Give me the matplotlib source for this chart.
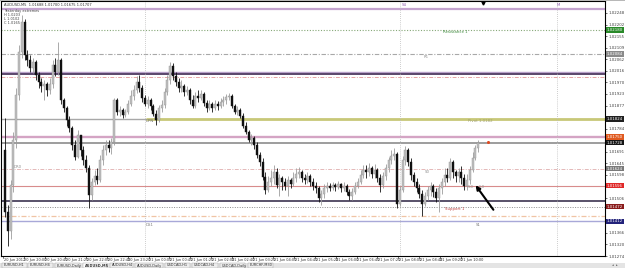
import numpy as np
import matplotlib
matplotlib.use("Agg")
import matplotlib.pyplot as plt
from matplotlib.patches import Rectangle, FancyArrowPatch
from matplotlib.transforms import blended_transform_factory

# AUDUSD M5 candles, prices in points (1e-5)
first_open_pts = 101700
close_pts = [
    101452, 101372, 101560, 101740, 101920, 102092, 102212, 102080, 102060, 102028,
    102052, 102000, 101972, 101956, 101964, 101940, 101964, 102040, 102012, 102060,
    101900, 101868, 101820, 101788, 101720, 101672, 101760, 101700, 101660, 101628,
    101520, 101572, 101596, 101580, 101660, 101700, 101720, 101708, 101732, 101900,
    101852, 101860, 101840, 101852, 101884, 101916, 101940, 101972, 101948, 101908,
    101884, 101900, 101876, 101844, 101820, 101868, 101880, 101932, 101980, 102036,
    101996, 101972, 101948, 101956, 101932, 101940, 101900, 101876, 101916, 101908,
    101924, 101888, 101868, 101884, 101868, 101884, 101876, 101892, 101900, 101912,
    101916, 101876, 101852, 101860, 101836, 101796, 101772, 101740, 101748, 101720,
    101680, 101652, 101592, 101540, 101572, 101588, 101612, 101560, 101588, 101572,
    101556, 101580, 101564, 101588, 101604, 101612, 101588, 101580, 101596, 101572,
    101556, 101548, 101508, 101524, 101548, 101556, 101548, 101560, 101552, 101564,
    101548, 101556, 101532, 101516, 101532, 101556, 101572, 101600, 101620, 101612,
    101628, 101604, 101620, 101588, 101560, 101596, 101628, 101660, 101676, 101684,
    101484, 101540, 101660, 101700, 101652, 101600, 101572, 101548, 101524, 101484,
    101516, 101540, 101556, 101532, 101508, 101548, 101572, 101600, 101588, 101652,
    101612, 101596, 101612, 101588, 101556, 101580, 101620, 101668, 101708, 101728,
]
high_pts = [
    101828, 101480, 101580, 101772, 101948, 102120, 102240, 102224, 102100, 102080,
    102068, 102060, 102012, 101988, 101980, 101972, 101988, 102060, 102068, 102132,
    102068, 101908, 101876, 101836, 101796, 101740, 101780, 101760, 101716, 101680,
    101640, 101588, 101620, 101628, 101680, 101720, 101740, 101740, 101748, 101908,
    101908, 101876, 101868, 101864, 101900, 101940, 101960, 101996, 102000, 101960,
    101920, 101916, 101908, 101884, 101860, 101880, 101900, 101948, 102000, 102052,
    102048, 102012, 101988, 101980, 101964, 101956, 101948, 101920, 101932, 101940,
    101940, 101932, 101900, 101900, 101892, 101900, 101896, 101908, 101916, 101924,
    101928, 101924, 101884, 101876, 101868, 101848, 101812, 101780, 101764, 101756,
    101732, 101692, 101668, 101612, 101596, 101620, 101640, 101628, 101604, 101596,
    101588, 101596, 101588, 101612, 101628, 101632, 101620, 101604, 101612, 101604,
    101588, 101572, 101556, 101540, 101564, 101572, 101568, 101572, 101568, 101576,
    101568, 101572, 101564, 101544, 101548, 101572, 101588, 101620, 101640, 101640,
    101648, 101636, 101644, 101628, 101604, 101612, 101644, 101672, 101700, 101708,
    101692, 101556, 101676, 101716, 101708, 101668, 101612, 101588, 101564, 101540,
    101532, 101556, 101572, 101564, 101548, 101564, 101588, 101628, 101628, 101668,
    101660, 101620, 101628, 101636, 101604, 101604, 101636, 101692, 101720, 101740,
]
low_pts = [
    101428, 101312, 101340, 101532, 101708, 101900, 102068, 102060, 102036, 102012,
    102008, 101980, 101948, 101932, 101900, 101916, 101924, 101948, 101996, 102000,
    101884, 101852, 101796, 101772, 101700, 101660, 101668, 101676, 101640, 101612,
    101468, 101500, 101560, 101564, 101572, 101640, 101680, 101692, 101684, 101720,
    101840, 101836, 101828, 101832, 101844, 101876, 101900, 101928, 101932, 101892,
    101876, 101868, 101860, 101836, 101800, 101812, 101852, 101868, 101920, 101964,
    101980, 101956, 101932, 101932, 101916, 101920, 101884, 101868, 101868, 101892,
    101900, 101876, 101852, 101860, 101852, 101860, 101860, 101868, 101876, 101884,
    101900, 101868, 101844, 101840, 101828, 101788, 101764, 101732, 101720, 101704,
    101668, 101636, 101580, 101524, 101532, 101556, 101564, 101548, 101516, 101540,
    101540, 101516, 101548, 101556, 101572, 101588, 101572, 101564, 101568, 101556,
    101540, 101528, 101492, 101480, 101508, 101532, 101536, 101540, 101536, 101544,
    101532, 101536, 101520, 101500, 101500, 101524, 101548, 101564, 101588, 101588,
    101596, 101588, 101588, 101572, 101532, 101548, 101580, 101612, 101644, 101660,
    101468, 101476, 101532, 101640, 101636, 101580, 101556, 101532, 101508, 101432,
    101476, 101500, 101516, 101512, 101492, 101452, 101524, 101556, 101572, 101580,
    101588, 101572, 101572, 101564, 101540, 101540, 101564, 101612, 101660, 101692,
]

# horizontal levels (pivot / S-R lines) drawn on the chart
level_prices = [1.02262, 1.02180, 1.02084, 1.02010, 1.02002, 1.01992, 1.01750,
                1.01728, 1.01624, 1.01556, 1.01496, 1.01472, 1.01434, 1.01412]
pivot_old, pivot_new = 1.01824, 1.01824
box_prices = [1.02180, 1.02084, 1.01824, 1.01750, 1.01728, 1.01624, 1.01556,
              1.01472, 1.01412]

date_labels = ["20 Jun 2012", "20 Jun 20:00", "20 Jun 20:40", "20 Jun 21:20",
               "20 Jun 22:00", "20 Jun 22:40", "20 Jun 23:20", "21 Jun 00:00",
               "21 Jun 00:40", "21 Jun 01:20", "21 Jun 02:00", "21 Jun 02:40",
               "21 Jun 03:20", "21 Jun 04:00", "21 Jun 04:40", "21 Jun 05:20",
               "21 Jun 06:00", "21 Jun 06:40", "21 Jun 07:20", "21 Jun 08:00",
               "21 Jun 08:40", "21 Jun 09:20", "21 Jun 10:00"]
tab_labels = ["EURUSD,H1", "EURUSD,H4", "EURUSD,Daily", "AUDUSD,M5", "AUDUSD,H4",
              "AUDUSD,Daily", "USDCAD,H1", "USDCAD,H4", "USDCAD,Daily", "EURCHF,M30"]

W, H = 625, 268
X0, STEP = 5, 2.8          # pixel of first bar, pixels per bar


def bx(px):
    return (px - X0) / STEP


def row_price(row):
    return 1.023 - 0.00004 * row


def price_row(p):
    return (1.023 - p) / 0.00004


fig = plt.figure(figsize=(W / 100, H / 100), dpi=100)
fig.patch.set_facecolor("white")

ax = fig.add_axes([1 / W, (H - 256) / H, 604 / W, 255 / H])
ax.set_xlim(bx(1), bx(605))
ax.set_ylim(row_price(256), row_price(1))
for s in ax.spines.values():
    s.set_linewidth(0.8)
    s.set_color("black")

# levels
lv = level_prices
ax.axhline(lv[0], color="#c3a3cf", lw=1.6)
ax.axhline(lv[1], color="#86a878", lw=0.8, ls=(0, (1, 1.5)))
ax.axhline(lv[2], color="#a8a8a8", lw=0.8, ls=(0, (4, 1.5, 1, 1.5)))
ax.axhline(lv[3], color="#b8a0c8", lw=1.0)
ax.axhline(lv[4], color="#4e3860", lw=1.3)
ax.axhline(lv[5], color="#e8a4a4", lw=0.7, ls=(0, (4, 1.5, 1, 1.5)))
ax.axhline(lv[6], color="#d4a4c4", lw=1.7)
ax.axhline(lv[7], color="#8c8c8c", lw=1.2)
ax.axhline(lv[8], color="#e4b8b8", lw=0.7, ls=(0, (4, 1.5, 1, 1.5)))
ax.axhline(lv[9], color="#d88c8c", lw=0.8)
ax.axhline(lv[10], color="#3c3450", lw=1.2)
ax.axhline(lv[11], color="#8c8c8c", lw=0.7, ls=(0, (1, 1.5)))
ax.axhline(lv[12], color="#f0c4a4", lw=0.9, ls=(0, (4, 1.5, 1, 1.5)))
ax.axhline(lv[13], color="#a8a8d8", lw=1.0)
ax.hlines(pivot_old, bx(1), bx(146), color="#a8a8a8", lw=1.0)
ax.hlines(pivot_new, bx(146), bx(605), color="#c8c878", lw=2.0)

for px in (145, 400, 557):
    ax.axvline(bx(px), color="#bdbdbd", lw=0.6, ls=(0, (1, 1.5)))

# candles
c = np.array(close_pts) / 1e5
o = np.r_[first_open_pts / 1e5, c[:-1]]
h = np.maximum(np.array(high_pts) / 1e5, np.maximum(o, c))
l = np.minimum(np.array(low_pts) / 1e5, np.minimum(o, c))
idx = np.arange(len(c))
up = c >= o
lo_body = np.minimum(o, c)
body = np.maximum(np.abs(c - o), 0.00002)
ax.vlines(idx[up], l[up], h[up], color="#9c9c9c", lw=0.6, zorder=3)
ax.vlines(idx[~up], l[~up], h[~up], color="#101010", lw=0.6, zorder=3)
ax.bar(idx[up], body[up], bottom=lo_body[up], width=0.7, color="#c0c0c0",
       edgecolor="#949494", lw=0.3, zorder=4)
ax.bar(idx[~up], body[~up], bottom=lo_body[~up], width=0.7, color="#101010",
       edgecolor="#101010", lw=0.3, zorder=4)

# right price scale; the coloured level boxes cover nearby tick labels
ticks = row_price(13 + 11.6 * np.arange(22))
box_rows = np.array([price_row(p) for p in box_prices])
ticks = [t for t in ticks if np.min(np.abs(box_rows - price_row(t))) > 5]
ax.yaxis.tick_right()
ax.set_yticks(ticks)
ax.set_yticklabels([f"{t:.5f}" for t in ticks], fontsize=2.8, color="#404040")
ax.tick_params(axis="y", length=1.5, width=0.4, pad=1)
ax.set_xticks([])

tr = blended_transform_factory(ax.transAxes, ax.transData)
box_cols = ["#2a8a2a", "#8a8a8a", "#202020", "#e05a20", "#151515", "#7a7a7a",
            "#e02828", "#8a1c1c", "#22227a"]
for p, col in zip(box_prices, box_cols):
    ax.text(1.003, p, f"{p:.5f}", transform=tr, fontsize=2.8, color="white",
            va="center", ha="left", clip_on=False, zorder=6,
            bbox=dict(facecolor=col, edgecolor="none", pad=0.6))

# overlay in pixel coordinates for window chrome and labels
ov = fig.add_axes([0, 0, 1, 1], zorder=10)
ov.set_xlim(0, W)
ov.set_ylim(H, 0)
ov.axis("off")
ov.patch.set_alpha(0)

ov.add_patch(Rectangle((0, 0), W, 1.2, color="#b8b8b8", lw=0))
ov.text(4, 4.5, "AUDUSD,M5  1.01688 1.01700 1.01675 1.01707", fontsize=2.6,
        color="#303030", va="center")
for k, t in enumerate(["Yesterday extremes", "H 1.0203", "L 1.0102", "C 1.0165"]):
    ov.text(4, 11 + 4 * k, t, fontsize=2.5, color="#404040", va="center")

ov.text(443, 32, "Resistance 1", fontsize=2.8, color="#3c8a3c", va="center")
ov.text(424, 57, "R1", fontsize=2.8, color="#909090", va="center")
ov.text(468, 121, "Pivot 1.0182", fontsize=2.8, color="#a0a070", va="center")
ov.text(146, 121, "DPN", fontsize=2.8, color="#707070", va="center")
ov.text(14, 167, "DR0", fontsize=2.8, color="#909090", va="center")
ov.text(425, 172, "S0", fontsize=2.8, color="#909090", va="center")
ov.text(468, 187, "S0     50", fontsize=2.8, color="#909090", va="center")
ov.text(445, 209, "Support 1", fontsize=2.8, color="#c04040", va="center")
ov.text(476, 225, "S1", fontsize=2.8, color="#808080", va="center")
ov.text(146, 225, "DS1", fontsize=2.8, color="#808080", va="center")
ov.text(402, 5, "S4", fontsize=2.8, color="#9060b0", va="center")
ov.text(557, 5, "M", fontsize=2.8, color="#9060b0", va="center")
ov.plot([483], [2.5], marker="v", ms=2.2, color="black")

ov.add_patch(FancyArrowPatch((495, 212), (474, 183), arrowstyle="-|>",
                             mutation_scale=6, lw=1.5, color="black"))
ov.plot([488], [142], "o", ms=2.2, color="#e04a20", mec="none")

# time axis
for k, t in enumerate(date_labels):
    x = 3 + 20.8 * k
    ov.plot([x, x], [256, 258], color="black", lw=0.4)
    ov.text(x + 0.5, 260, t, fontsize=2.5, color="#303030", va="center")

# tabs
ov.add_patch(Rectangle((0, 262.5), W, H - 262.5, color="#e4e4e4", lw=0))
tab_x = [2, 28, 55, 83, 110, 135, 165, 192, 220, 248]
tab_w = [25, 25, 25, 24, 23, 28, 25, 26, 25, 25]
for k, (x, w, t) in enumerate(zip(tab_x, tab_w, tab_labels)):
    active = t == "AUDUSD,M5"
    ov.add_patch(Rectangle((x, 262.8), w, 5, facecolor="white" if active else "#ececec",
                           edgecolor="#a0a0a0", lw=0.3))
    ov.text(x + 2, 265.5, t, fontsize=2.5, color="#303030", va="center",
            fontweight="bold" if active else "normal")
ov.text(612, 265.5, "◂  ▸", fontsize=2.5, color="#505050", va="center")

fig.savefig("out.png", dpi=100)
